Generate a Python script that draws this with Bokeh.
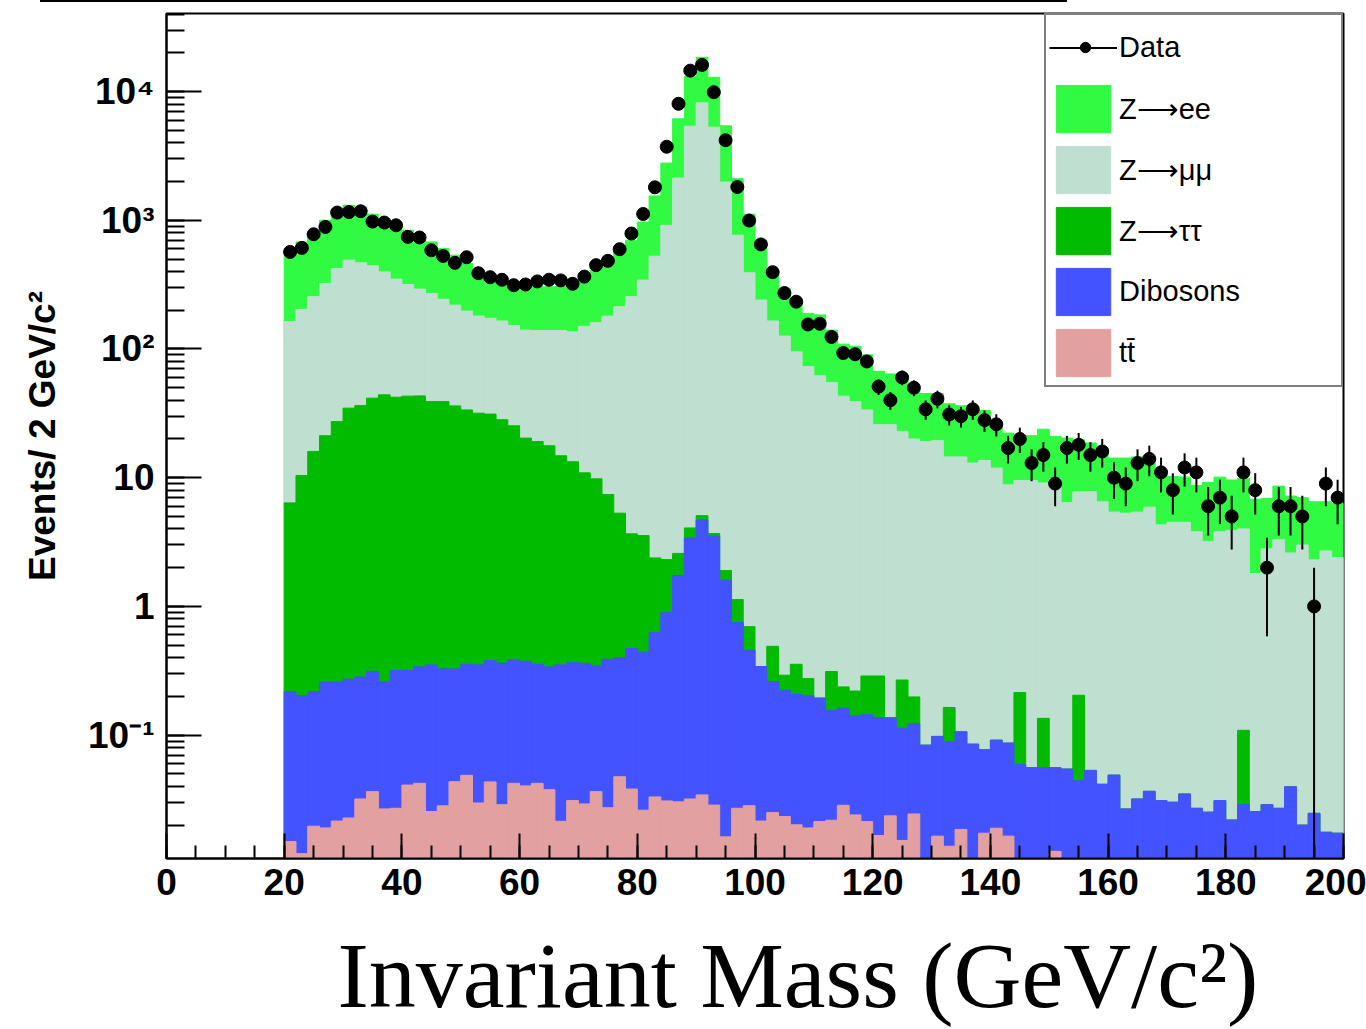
import numpy as np
from bokeh.plotting import figure
from bokeh.layouts import column
from bokeh.models import (Range1d, SingleIntervalTicker, LogTicker, Legend, LegendItem,
                          Title, Div, CustomJSTickFormatter)
from bokeh.embed import file_html
from bokeh.resources import INLINE

# Binning: 2 GeV/c^2 bins from 20 to 200
mass_edges = np.arange(20.0, 201.0, 2.0)

# Observed events per bin
data_counts = [
    568, 610, 779, 887, 1148, 1158, 1175, 977, 960, 914,
    743, 735, 585, 528, 467, 516, 388, 361, 345, 313,
    317, 335, 345, 341, 321, 365, 448, 484, 596, 789,
    1119, 1803, 3724, 8032, 14540, 16110, 9880, 4188, 1813, 995,
    649, 395, 272, 233, 155, 157, 124, 93, 91, 80,
    51, 40, 60, 50, 34, 41, 31, 30, 34, 28,
    26, 17, 20, 13, 15, 9, 17, 18, 15, 16,
    10, 9, 13, 14, 11, 8, 12, 11, 6, 7,
    5, 11, 8, 2, 6, 6, 5, 1, 9, 7,
]

# Stacked MC: upper edge of each layer (cumulative, ttbar at the bottom)
stack_zee = [
    535, 679, 811, 1000, 1210, 1307, 1267, 1114, 1031, 942,
    836, 765, 679, 604, 535, 461, 409, 375, 347, 323,
    308, 304, 304, 308, 323, 345, 409, 490, 604, 700,
    970, 1545, 2782, 6140, 13070, 18450, 12910, 5420, 2104, 1114,
    700, 409, 295, 247, 189, 184, 140, 109, 105, 90,
    67, 64, 61, 48, 45, 45, 37.5, 36.2, 34.7, 33.3,
    25.0, 22.2, 21.2, 21.2, 23.8, 20.9, 20.3, 19.7, 18.6, 17.0,
    14.2, 14.2, 14.5, 13.1, 10.7, 10.2, 10.1, 8.7, 9.2, 10.1,
    9.6, 9.9, 6.8, 6.9, 8.6, 7.2, 7.0, 6.5, 6.5, 6.3,
]
stack_zmumu = [
    163, 203, 255, 323, 422, 490, 467, 443, 397, 349,
    317, 292, 270, 243, 219, 197, 180, 173, 165, 152,
    140, 139, 139, 139, 136, 150, 160, 180, 213, 255,
    343, 526, 914, 2128, 5380, 8170, 5280, 1981, 765, 391,
    240, 165, 126, 95, 73, 62, 55, 43, 39, 33.6,
    25.8, 25.8, 22.9, 20.0, 19.1, 19.4, 14.5, 14.5, 13.0, 13.6,
    11.9, 8.8, 9.5, 9.5, 9.1, 9.8, 6.4, 7.8, 7.8, 6.5,
    5.4, 5.3, 5.4, 5.9, 4.3, 4.5, 4.5, 3.8, 3.2, 3.8,
    3.9, 4.0, 1.8, 2.8, 3.3, 2.6, 3.0, 2.3, 2.7, 2.4,
]
stack_ztautau = [
    6.37, 10.4, 16.0, 21.2, 27.3, 34.7, 36.3, 41.5, 44.0, 42.2,
    43.0, 43.2, 39.0, 39.0, 36.1, 33.6, 31.7, 31.2, 28.2, 25.3,
    20.3, 19.1, 17.7, 14.8, 13.3, 10.9, 9.8, 7.4, 5.3, 3.66,
    3.55, 2.38, 2.31, 2.58, 4.07, 5.07, 3.68, 1.90, 1.13, 0.696,
    0.341, 0.490, 0.292, 0.355, 0.275, 0.194, 0.312, 0.237, 0.220, 0.288,
    0.288, 0.137, 0.268, 0.198, 0.0836, 0.0977, 0.164, 0.106, 0.0851, 0.0769,
    0.0914, 0.0867, 0.214, 0.0558, 0.135, 0.0558, 0.0545, 0.204, 0.0532, 0.0415,
    0.0489, 0.0267, 0.0319, 0.0366, 0.0310, 0.0301, 0.0349, 0.0270, 0.0252, 0.0310,
    0.0219, 0.109, 0.0255, 0.0288, 0.0270, 0.0397, 0.0200, 0.0247, 0.0176, 0.0173,
]
stack_diboson = [
    0.217, 0.202, 0.217, 0.259, 0.259, 0.272, 0.283, 0.313, 0.259, 0.317,
    0.318, 0.339, 0.351, 0.327, 0.327, 0.355, 0.351, 0.379, 0.363, 0.385,
    0.375, 0.355, 0.339, 0.351, 0.365, 0.361, 0.345, 0.388, 0.400, 0.472,
    0.442, 0.625, 0.893, 1.74, 3.40, 4.67, 3.51, 1.60, 0.748, 0.456,
    0.341, 0.261, 0.223, 0.208, 0.202, 0.194, 0.156, 0.162, 0.141, 0.144,
    0.137, 0.135, 0.113, 0.122, 0.0836, 0.0977, 0.0887, 0.106, 0.0851, 0.0769,
    0.0914, 0.0867, 0.0589, 0.0558, 0.0558, 0.0558, 0.0545, 0.0442, 0.0532, 0.0415,
    0.0489, 0.0267, 0.0319, 0.0366, 0.0310, 0.0301, 0.0349, 0.0270, 0.0252, 0.0310,
    0.0219, 0.0288, 0.0255, 0.0288, 0.0270, 0.0397, 0.0200, 0.0247, 0.0176, 0.0173,
]
stack_ttbar = [
    0.0149, 0.0120, 0.0196, 0.0190, 0.0215, 0.0227, 0.0319, 0.0364, 0.0267, 0.0270,
    0.0409, 0.0422, 0.0255, 0.0282, 0.0435, 0.0487, 0.0297, 0.0433, 0.0288, 0.0422,
    0.0403, 0.0422, 0.0377, 0.0214, 0.0310, 0.0292, 0.0364, 0.0273, 0.0475, 0.0381,
    0.0261, 0.0331, 0.0308, 0.0303, 0.0319, 0.0343, 0.0286, 0.0162, 0.0270, 0.0283,
    0.0215, 0.0250, 0.0233, 0.0201, 0.0190, 0.0213, 0.0218, 0.0285, 0.0240, 0.0213,
    0.0166, 0.0236, 0.0152, 0.0244, 0.0, 0.0164, 0.0137, 0.0185, 0.0, 0.0173,
    0.0189, 0.0164, 0.0, 0.0, 0.0, 0.0125, 0.0, 0.0, 0.0, 0.0,
    0.0, 0.0, 0.0, 0.0, 0.0, 0.0, 0.0, 0.0, 0.0, 0.0,
    0.0, 0.0, 0.0, 0.0, 0.0, 0.0, 0.0, 0.0, 0.0, 0.0,
]

process_names = ["Z⟶ee", "Z⟶μμ", "Z⟶ττ", "Dibosons", "tt̄"]
process_colors = ["#30FA42", "#BFDFD0", "#00BB00", "#4353FF", "#E3A0A0"]

FLOOR = 1e-4  # fill histograms down to below the visible axis range

p = figure(width=1366, height=1027,
           x_range=Range1d(0, 200), y_range=Range1d(0.011, 4.04e4),
           y_axis_type="log", output_backend="svg", toolbar_location=None,
           min_border_left=166, min_border_right=23, min_border_top=11,
           min_border_bottom=171)
p.background_fill_color = "white"
p.border_fill_color = "white"
p.xgrid.visible = False
p.ygrid.visible = False
p.outline_line_color = "black"
p.outline_line_width = 2

# Stacked histograms, drawn from the full stack down to the lowest layer
left = mass_edges[:-1]
right = mass_edges[1:]
stack_tops = [stack_zee, stack_zmumu, stack_ztautau, stack_diboson, stack_ttbar]
layer_renderers = []
for top, color in zip(stack_tops, process_colors):
    top = np.asarray(top, dtype=float)
    keep = top > 0
    r = p.quad(left=left[keep], right=right[keep], bottom=FLOOR, top=top[keep],
               fill_color=color, line_color=color, line_width=1)
    layer_renderers.append(r)

# Data points with Poisson error bars
counts = np.asarray(data_counts, dtype=float)
centers = 0.5 * (left + right)
errs = np.sqrt(counts)
p.segment(x0=centers, y0=np.maximum(counts - errs, FLOOR), x1=centers, y1=counts + errs,
          line_color="black", line_width=2)
p.scatter(centers, counts, size=13, color="black")

# Legend-only glyphs for the data entry (kept outside the visible x range)
data_line = p.line(x=[-30, -20], y=[1, 1], line_color="black", line_width=2)
data_dot = p.scatter(x=[-25], y=[1], size=10, color="black")

items = [LegendItem(label="Data", renderers=[data_line])]
for name, r in zip(process_names, layer_renderers):
    items.append(LegendItem(label=name, renderers=[r]))

legend = Legend(items=items, location="top_right", margin=0, padding=3, spacing=2,
                glyph_width=68, glyph_height=59, label_standoff=2, label_width=219,
                label_text_font="Liberation Sans", label_text_font_size="29px",
                label_text_color="black",
                border_line_color="black", border_line_width=2,
                background_fill_color="white", background_fill_alpha=1.0)
p.add_layout(legend)

# Small marker on the data legend row: a borderless legend with a shorter glyph box,
# laid over the first row (location is measured from the frame's lower-left corner)
dot_legend = Legend(items=[LegendItem(label=" ", renderers=[data_dot])],
                    location=(882, 798), margin=0, padding=0, spacing=0,
                    glyph_width=74, glyph_height=26, label_standoff=0, label_width=1,
                    label_text_font_size="1px",
                    border_line_color=None, background_fill_alpha=0.0)
p.add_layout(dot_legend)

# X axis
xa = p.xaxis[0]
xa.ticker = SingleIntervalTicker(interval=20, num_minor_ticks=4)
xa.major_tick_in = 25
xa.major_tick_out = 0
xa.minor_tick_in = 13
xa.minor_tick_out = 0
xa.major_tick_line_width = 2
xa.minor_tick_line_width = 2
xa.axis_line_width = 2
xa.major_label_standoff = 10
xa.major_label_text_font = "Liberation Sans"
xa.major_label_text_font_style = "bold"
xa.major_label_text_font_size = "37px"
xa.major_label_text_color = "black"
# blank axis label only reserves a little room between tick labels and the title
xa.axis_label = " "
xa.axis_label_text_font_size = "12px"
xa.axis_label_standoff = 6

# Y axis
ya = p.yaxis[0]
ya.ticker = LogTicker(num_minor_ticks=10)
ya.formatter = CustomJSTickFormatter(code="""
    const e = Math.round(Math.log10(tick));
    if (e === 0) return "1";
    if (e === 1) return "10";
    const sup = {"-": "\u207b", "0": "\u2070", "1": "\u00b9", "2": "\u00b2", "3": "\u00b3",
                 "4": "\u2074", "5": "\u2075", "6": "\u2076", "7": "\u2077", "8": "\u2078", "9": "\u2079"};
    return "10" + String(e).split("").map(c => sup[c]).join("");
""")
ya.major_tick_in = 35
ya.major_tick_out = 0
ya.minor_tick_in = 18
ya.minor_tick_out = 0
ya.major_tick_line_width = 2
ya.minor_tick_line_width = 2
ya.axis_line_width = 2
ya.major_label_standoff = 12
ya.major_label_text_font = "Liberation Sans"
ya.major_label_text_font_style = "bold"
ya.major_label_text_font_size = "37px"
ya.major_label_text_color = "black"
ya.axis_label = "Events/ 2 GeV/c²"
ya.axis_label_text_font = "Liberation Sans"
ya.axis_label_text_font_style = "bold"
ya.axis_label_text_font_size = "37px"
ya.axis_label_text_color = "black"
ya.axis_label_standoff = 22

# X axis title, set in a large serif face
xtitle = Title(text="Invariant Mass (GeV/c²)", align="left", offset=171,
               text_font="Liberation Serif", text_font_size="94px",
               text_font_style="normal", text_color="black", standoff=0)
p.add_layout(xtitle, "below")

# Thin rule above the plot
rule = Div(text="", width=1027, height=2, margin=(0, 0, 0, 40),
           styles={"background-color": "black"})

page = column(rule, p, spacing=0)

open("out.html", "w").write(file_html(page, INLINE))
